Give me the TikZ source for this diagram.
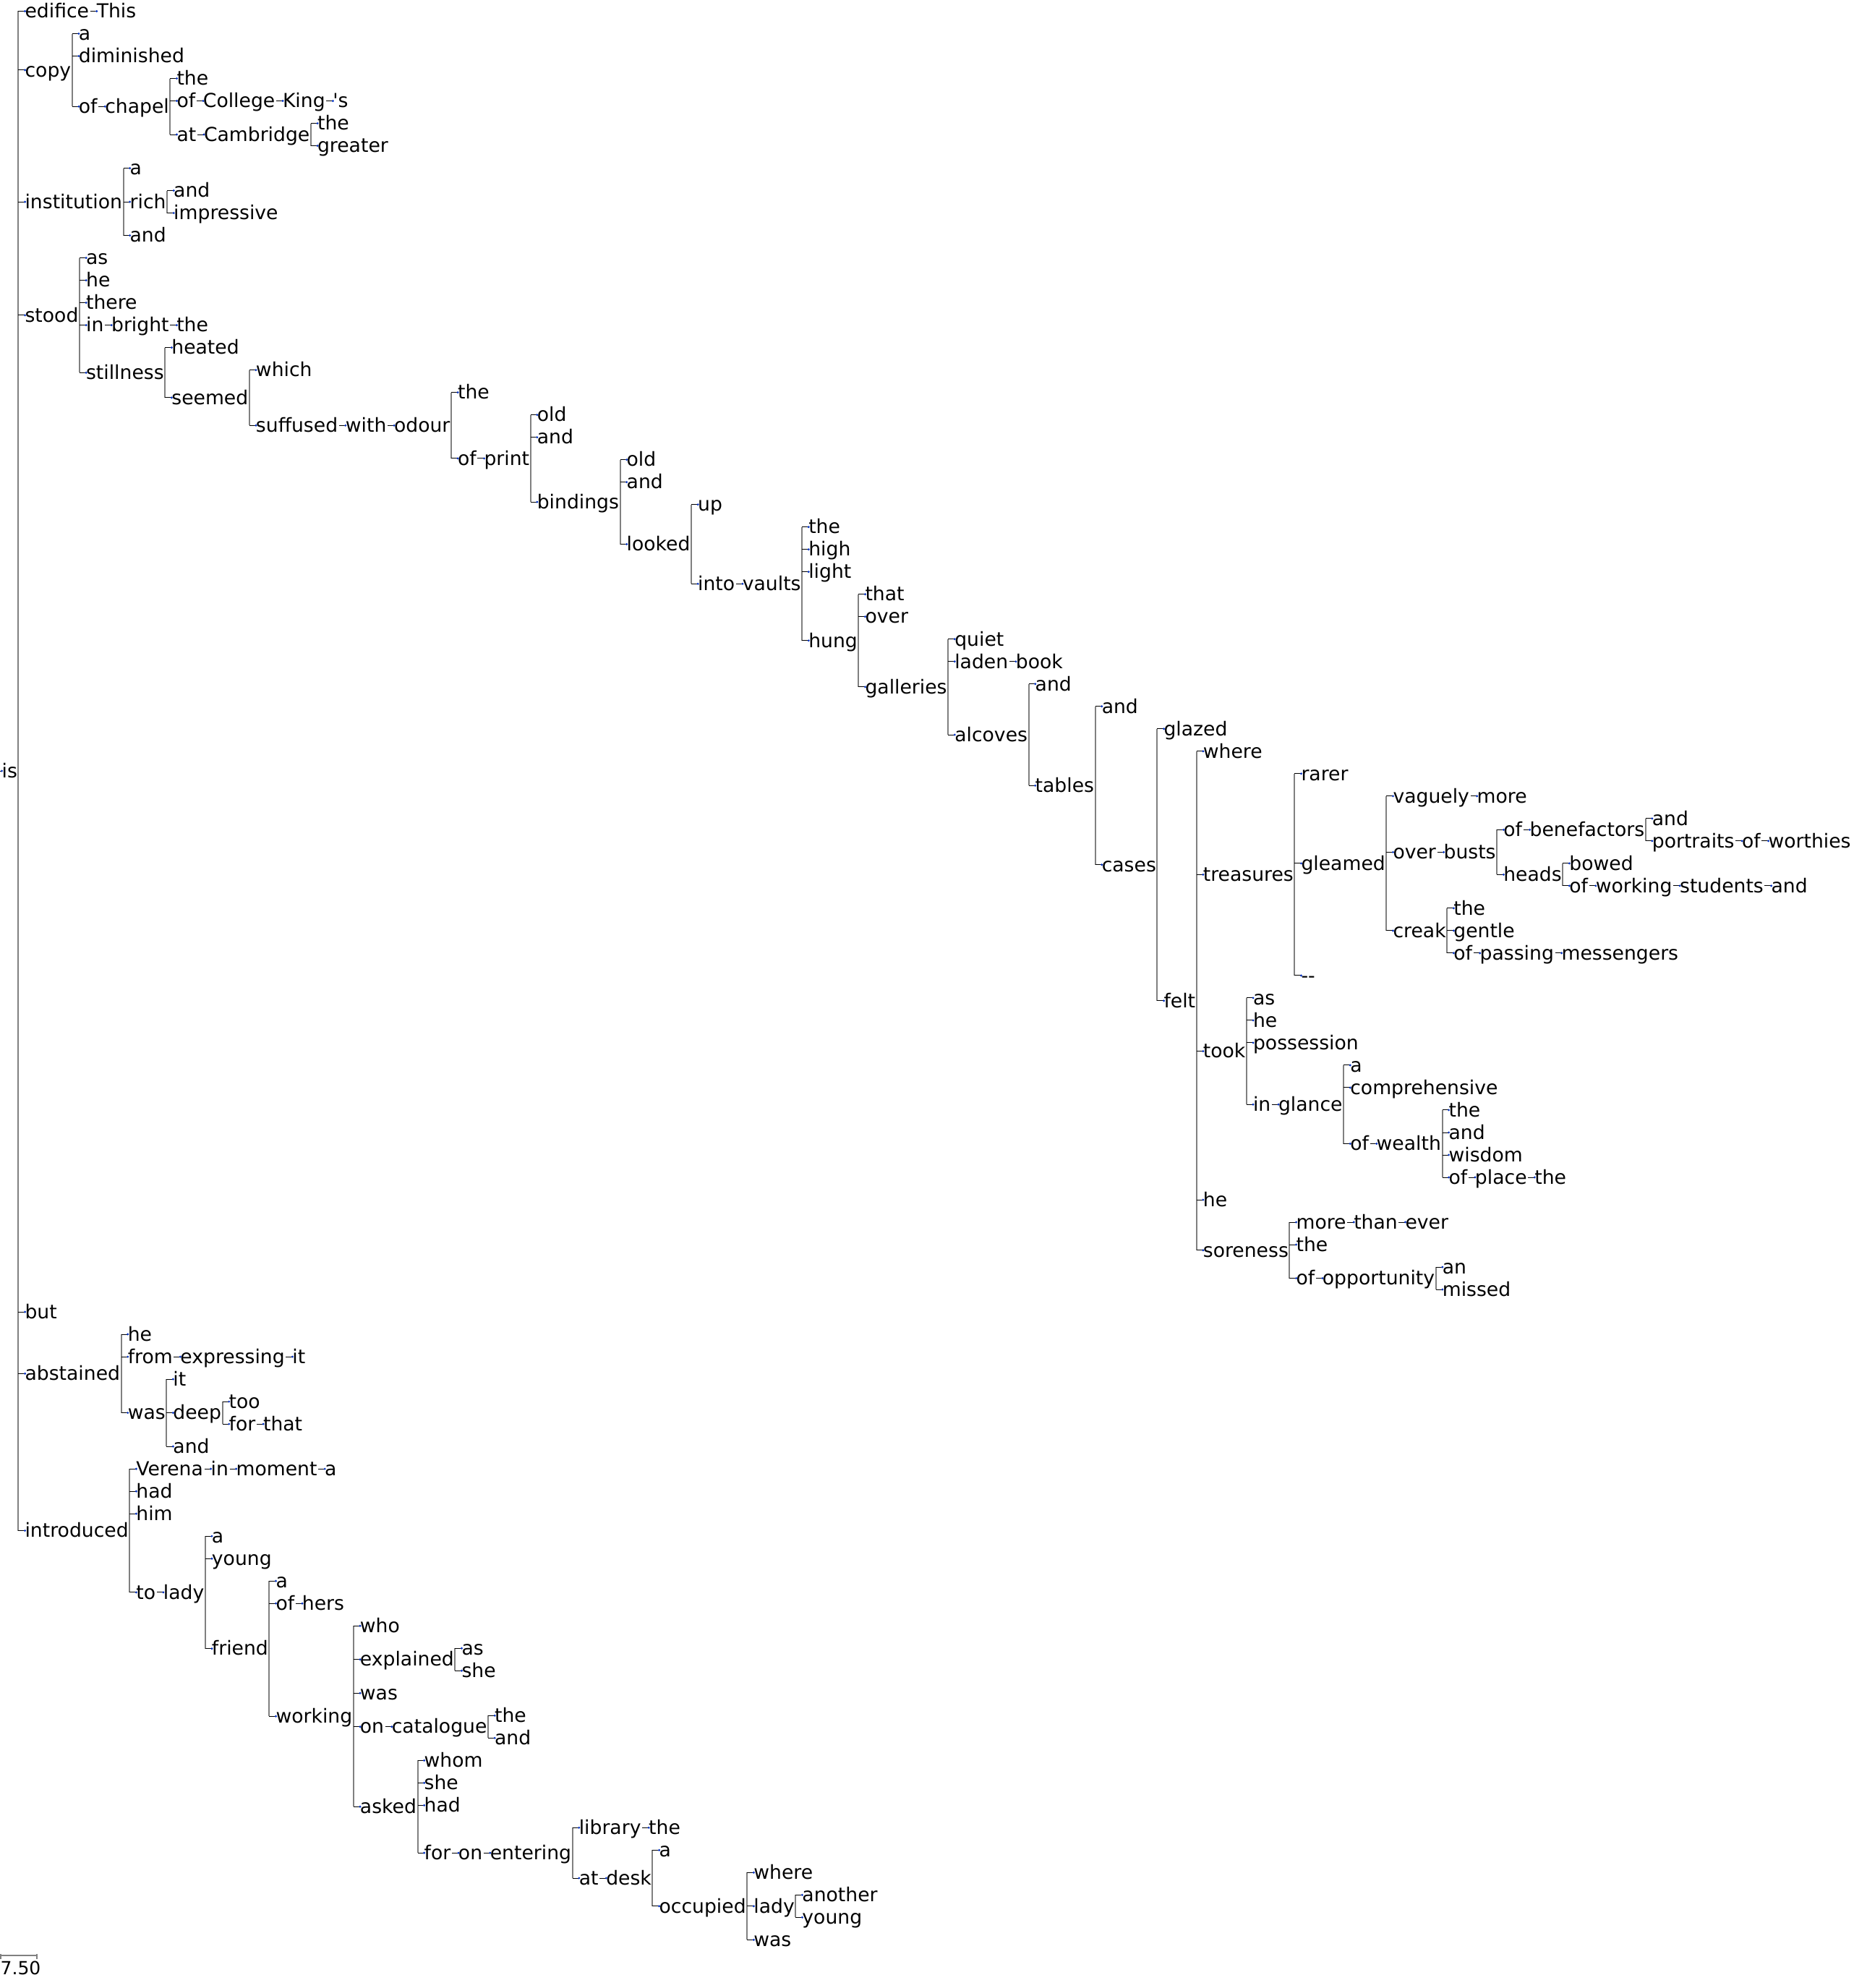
\documentclass[tikz,border=0pt]{standalone}
\usepackage{fontspec}
\usepackage{xcolor}
\usepackage{tikz}
\usetikzlibrary{
    calc
}
\newfontfamily\wordfont{DejaVu Sans}
\definecolor{NodeBlue}{HTML}{0030C3}
\tikzset{
    word/.style={
        font=\wordfont\fontsize{13.32pt}{15.5pt}\selectfont,
        inner sep=0pt,
        outer sep=0pt,
        anchor=west,
        text height=12.36pt,
        text depth=3.14pt,
        execute at end node={\hspace{.8pt}},
    },
    dep/.style={
        word,
        xshift=4.55pt,
    },
    dot/.style={
        circle,
        fill=NodeBlue,
        inner sep=0pt,
        minimum size=1.6pt,
    },
    input/.style={
        draw=black,
        line width=.5pt,
        to path={(\tikztostart.east |- \tikztotarget.west) -- (\tikztotarget.west) node[dot] {}},
    },
    fork/.style={
        draw=gray,
        line width=1pt,
    },
}

\begin{document}
\begin{tikzpicture}[x=0.5pt,y=-15.505pt,every edge/.style={input}]
    \useasboundingbox (0,-0.5) rectangle (2564,88.15);

    \tikzset{
        scalebar/.style={draw=gray,line width=1pt},
    }

    % root and first level
    \node[word] (is) at (2.6,33.877) {is};
    \node[dep] (edifice) at (is.east |- 0,0) {edifice};
    \node[dep] (This) at (edifice.east |- 0,0) {This};
    \node[dep] (copy) at (is.east |- 0,2.625) {copy};
    \node[dep] (copyA) at (copy.east |- 0,1) {a};
    \node[dep] (diminished) at (copy.east |- 0,2) {diminished};
    \node[dep] (ofChapel) at (copy.east |- 0,4.25) {of};
    \node[dep] (chapel) at (ofChapel.east |- 0,4.25) {chapel};
    \node[dep] (chapelThe) at (chapel.east |- 0,3) {the};
    \node[dep] (ofCollege) at (chapel.east |- 0,4) {of};
    \node[dep] (College) at (ofCollege.east |- 0,4) {College};
    \node[dep] (King) at (College.east |- 0,4) {King};
    \node[dep] (Kings) at (King.east |- 0,4) {'s};
    \node[dep] (atCambridge) at (chapel.east |- 0,5.5) {at};
    \node[dep] (Cambridge) at (atCambridge.east |- 0,5.5) {Cambridge};
    \node[dep] (cambridgeThe) at (Cambridge.east |- 0,5) {the};
    \node[dep] (greater) at (Cambridge.east |- 0,6) {greater};

    \node[dep] (institution) at (is.east |- 0,8.5) {institution};
    \node[dep] (instA) at (institution.east |- 0,7) {a};
    \node[dep] (rich) at (institution.east |- 0,8.5) {rich};
    \node[dep] (richAnd) at (rich.east |- 0,8) {and};
    \node[dep] (impressive) at (rich.east |- 0,9) {impressive};
    \node[dep] (instAnd) at (institution.east |- 0,10) {and};

    % the long staircase under stood
    \node[dep] (stood) at (is.east |- 0,13.5589) {stood};
    \node[dep] (stoodAs) at (stood.east |- 0,11) {as};
    \node[dep] (stoodHe) at (stood.east |- 0,12) {he};
    \node[dep] (there) at (stood.east |- 0,13) {there};
    \node[dep] (stoodIn) at (stood.east |- 0,14) {in};
    \node[dep] (bright) at (stoodIn.east |- 0,14) {bright};
    \node[dep] (brightThe) at (bright.east |- 0,14) {the};
    \node[dep] (stillness) at (stood.east |- 0,16.1177) {stillness};
    \node[dep] (heated) at (stillness.east |- 0,15) {heated};
    \node[dep] (seemed) at (stillness.east |- 0,17.2354) {seemed};
    \node[dep] (which) at (seemed.east |- 0,16) {which};
    \node[dep] (suffused) at (seemed.east |- 0,18.4708) {suffused};
    \node[dep] (with) at (suffused.east |- 0,18.4708) {with};
    \node[dep] (odour) at (with.east |- 0,18.4708) {odour};
    \node[dep] (odourThe) at (odour.east |- 0,17) {the};
    \node[dep] (ofPrint) at (odour.east |- 0,19.9417) {of};
    \node[dep] (print) at (ofPrint.east |- 0,19.9417) {print};
    \node[dep] (printOld) at (print.east |- 0,18) {old};
    \node[dep] (printAnd) at (print.east |- 0,19) {and};
    \node[dep] (bindings) at (print.east |- 0,21.8833) {bindings};
    \node[dep] (bindOld) at (bindings.east |- 0,20) {old};
    \node[dep] (bindAnd) at (bindings.east |- 0,21) {and};
    \node[dep] (looked) at (bindings.east |- 0,23.7666) {looked};
    \node[dep] (up) at (looked.east |- 0,22) {up};
    \node[dep] (into) at (looked.east |- 0,25.5332) {into};
    \node[dep] (vaults) at (into.east |- 0,25.5332) {vaults};
    \node[dep] (vaultsThe) at (vaults.east |- 0,23) {the};
    \node[dep] (high) at (vaults.east |- 0,24) {high};
    \node[dep] (light) at (vaults.east |- 0,25) {light};
    \node[dep] (hung) at (vaults.east |- 0,28.0664) {hung};
    \node[dep] (that) at (hung.east |- 0,26) {that};
    \node[dep] (over) at (hung.east |- 0,27) {over};
    \node[dep] (galleries) at (hung.east |- 0,30.1328) {galleries};
    \node[dep] (quiet) at (galleries.east |- 0,28) {quiet};
    \node[dep] (laden) at (galleries.east |- 0,29) {laden};
    \node[dep] (book) at (laden.east |- 0,29) {book};
    \node[dep] (alcoves) at (galleries.east |- 0,32.2656) {alcoves};
    \node[dep] (alcAnd) at (alcoves.east |- 0,30) {and};
    \node[dep] (tables) at (alcoves.east |- 0,34.5313) {tables};
    \node[dep] (tabAnd) at (tables.east |- 0,31) {and};
    \node[dep] (cases) at (tables.east |- 0,38.0625) {cases};
    \node[dep] (glazed) at (cases.east |- 0,32) {glazed};
    \node[dep] (felt) at (cases.east |- 0,44.125) {felt};
    \node[dep] (where) at (felt.east |- 0,33) {where};

    \node[dep] (treasures) at (felt.east |- 0,38.5) {treasures};
    \node[dep] (rarer) at (treasures.east |- 0,34) {rarer};
    \node[dep] (gleamed) at (treasures.east |- 0,38) {gleamed};
    \node[dep] (vaguely) at (gleamed.east |- 0,35) {vaguely};
    \node[dep] (more) at (vaguely.east |- 0,35) {more};
    \node[dep] (overBusts) at (gleamed.east |- 0,37.5) {over};
    \node[dep] (busts) at (overBusts.east |- 0,37.5) {busts};
    \node[dep] (ofBenef) at (busts.east |- 0,36.5) {of};
    \node[dep] (benefactors) at (ofBenef.east |- 0,36.5) {benefactors};
    \node[dep] (benAnd) at (benefactors.east |- 0,36) {and};
    \node[dep] (portraits) at (benefactors.east |- 0,37) {portraits};
    \node[dep] (ofWorthies) at (portraits.east |- 0,37) {of};
    \node[dep] (worthies) at (ofWorthies.east |- 0,37) {worthies};
    \node[dep] (heads) at (busts.east |- 0,38.5) {heads};
    \node[dep] (bowed) at (heads.east |- 0,38) {bowed};
    \node[dep] (ofWorking) at (heads.east |- 0,39) {of};
    \node[dep] (workingA) at (ofWorking.east |- 0,39) {working};
    \node[dep] (students) at (workingA.east |- 0,39) {students};
    \node[dep] (studAnd) at (students.east |- 0,39) {and};
    \node[dep] (creak) at (gleamed.east |- 0,41) {creak};
    \node[dep] (creakThe) at (creak.east |- 0,40) {the};
    \node[dep] (gentle) at (creak.east |- 0,41) {gentle};
    \node[dep] (ofPassing) at (creak.east |- 0,42) {of};
    \node[dep] (passing) at (ofPassing.east |- 0,42) {passing};
    \node[dep] (messengers) at (passing.east |- 0,42) {messengers};
    \node[dep] (dashes) at (treasures.east |- 0,43) {--};

    \node[dep] (took) at (felt.east |- 0,46.375) {took};
    \node[dep] (tookAs) at (took.east |- 0,44) {as};
    \node[dep] (tookHe) at (took.east |- 0,45) {he};
    \node[dep] (possession) at (took.east |- 0,46) {possession};
    \node[dep] (inGlance) at (took.east |- 0,48.75) {in};
    \node[dep] (glance) at (inGlance.east |- 0,48.75) {glance};
    \node[dep] (glanceA) at (glance.east |- 0,47) {a};
    \node[dep] (comprehensive) at (glance.east |- 0,48) {comprehensive};
    \node[dep] (ofWealth) at (glance.east |- 0,50.5) {of};
    \node[dep] (wealth) at (ofWealth.east |- 0,50.5) {wealth};
    \node[dep] (wealthThe) at (wealth.east |- 0,49) {the};
    \node[dep] (wealthAnd) at (wealth.east |- 0,50) {and};
    \node[dep] (wisdom) at (wealth.east |- 0,51) {wisdom};
    \node[dep] (ofPlace) at (wealth.east |- 0,52) {of};
    \node[dep] (place) at (ofPlace.east |- 0,52) {place};
    \node[dep] (placeThe) at (place.east |- 0,52) {the};
    \node[dep] (feltHe) at (felt.east |- 0,53) {he};
    \node[dep] (soreness) at (felt.east |- 0,55.25) {soreness};
    \node[dep] (moreThan) at (soreness.east |- 0,54) {more};
    \node[dep] (than) at (moreThan.east |- 0,54) {than};
    \node[dep] (ever) at (than.east |- 0,54) {ever};
    \node[dep] (sorenessThe) at (soreness.east |- 0,55) {the};
    \node[dep] (ofOpp) at (soreness.east |- 0,56.5) {of};
    \node[dep] (opportunity) at (ofOpp.east |- 0,56.5) {opportunity};
    \node[dep] (an) at (opportunity.east |- 0,56) {an};
    \node[dep] (missed) at (opportunity.east |- 0,57) {missed};

    % lower part
    \node[dep] (but) at (is.east |- 0,58) {but};
    \node[dep] (abstained) at (is.east |- 0,60.75) {abstained};
    \node[dep] (abstHe) at (abstained.east |- 0,59) {he};
    \node[dep] (from) at (abstained.east |- 0,60) {from};
    \node[dep] (expressing) at (from.east |- 0,60) {expressing};
    \node[dep] (expIt) at (expressing.east |- 0,60) {it};
    \node[dep] (wasA) at (abstained.east |- 0,62.5) {was};
    \node[dep] (wasIt) at (wasA.east |- 0,61) {it};
    \node[dep] (deep) at (wasA.east |- 0,62.5) {deep};
    \node[dep] (too) at (deep.east |- 0,62) {too};
    \node[dep] (forThat) at (deep.east |- 0,63) {for};
    \node[dep] (thatA) at (forThat.east |- 0,63) {that};
    \node[dep] (wasAnd) at (wasA.east |- 0,64) {and};

    \node[dep] (introduced) at (is.east |- 0,67.7539) {introduced};
    \node[dep] (Verena) at (introduced.east |- 0,65) {Verena};
    \node[dep] (inMoment) at (Verena.east |- 0,65) {in};
    \node[dep] (moment) at (inMoment.east |- 0,65) {moment};
    \node[dep] (momentA) at (moment.east |- 0,65) {a};
    \node[dep] (hadA) at (introduced.east |- 0,66) {had};
    \node[dep] (him) at (introduced.east |- 0,67) {him};
    \node[dep] (toLady) at (introduced.east |- 0,70.5078) {to};
    \node[dep] (ladyA) at (toLady.east |- 0,70.5078) {lady};
    \node[dep] (ladyAA) at (ladyA.east |- 0,68) {a};
    \node[dep] (youngA) at (ladyA.east |- 0,69) {young};
    \node[dep] (friend) at (ladyA.east |- 0,73.0156) {friend};
    \node[dep] (friendA) at (friend.east |- 0,70) {a};
    \node[dep] (ofHers) at (friend.east |- 0,71) {of};
    \node[dep] (hers) at (ofHers.east |- 0,71) {hers};
    \node[dep] (workingB) at (friend.east |- 0,76.0313) {working};
    \node[dep] (who) at (workingB.east |- 0,72) {who};
    \node[dep] (explained) at (workingB.east |- 0,73.5) {explained};
    \node[dep] (explAs) at (explained.east |- 0,73) {as};
    \node[dep] (explShe) at (explained.east |- 0,74) {she};
    \node[dep] (wasB) at (workingB.east |- 0,75) {was};
    \node[dep] (onCat) at (workingB.east |- 0,76.5) {on};
    \node[dep] (catalogue) at (onCat.east |- 0,76.5) {catalogue};
    \node[dep] (catThe) at (catalogue.east |- 0,76) {the};
    \node[dep] (catAnd) at (catalogue.east |- 0,77) {and};
    \node[dep] (asked) at (workingB.east |- 0,80.0625) {asked};
    \node[dep] (whom) at (asked.east |- 0,78) {whom};
    \node[dep] (askedShe) at (asked.east |- 0,79) {she};
    \node[dep] (hadB) at (asked.east |- 0,80) {had};
    \node[dep] (forOn) at (asked.east |- 0,82.125) {for};
    \node[dep] (onEnt) at (forOn.east |- 0,82.125) {on};
    \node[dep] (entering) at (onEnt.east |- 0,82.125) {entering};
    \node[dep] (library) at (entering.east |- 0,81) {library};
    \node[dep] (libThe) at (library.east |- 0,81) {the};
    \node[dep] (atDesk) at (entering.east |- 0,83.25) {at};
    \node[dep] (desk) at (atDesk.east |- 0,83.25) {desk};
    \node[dep] (deskA) at (desk.east |- 0,82) {a};
    \node[dep] (occupied) at (desk.east |- 0,84.5) {occupied};
    \node[dep] (occWhere) at (occupied.east |- 0,83) {where};
    \node[dep] (ladyB) at (occupied.east |- 0,84.5) {lady};
    \node[dep] (another) at (ladyB.east |- 0,84) {another};
    \node[dep] (youngB) at (ladyB.east |- 0,85) {young};
    \node[dep] (wasC) at (occupied.east |- 0,86) {was};

    % scale
    \coordinate (rootstem) at (0,33.877);
    \coordinate (scaleL) at (1,86.71);
    \coordinate (scaleR) at (51,86.71);
    \node[anchor=base west,inner sep=0pt,font=\wordfont\fontsize{12.5pt}{14pt}\selectfont] (scalelabel) at (0.3,87.54) {7.50};

    \draw[input] (rootstem) -- (is.west) node[dot] {};
    \draw[fork] (is.east |- edifice.west) -- (is.east |- introduced.west)
        (is) edge (edifice) edge (copy) edge (institution) edge (stood) edge (but) edge (abstained) edge (introduced);
    \path (edifice) edge (This);
    \draw[fork] (copy.east |- copyA.west) -- (copy.east |- ofChapel.west)
        (copy) edge (copyA) edge (diminished) edge (ofChapel);
    \path (ofChapel) edge (chapel);
    \draw[fork] (chapel.east |- chapelThe.west) -- (chapel.east |- atCambridge.west)
        (chapel) edge (chapelThe) edge (ofCollege) edge (atCambridge);
    \path (ofCollege) edge (College) (College) edge (King) (King) edge (Kings);
    \path (atCambridge) edge (Cambridge);
    \draw[fork] (Cambridge.east |- cambridgeThe.west) -- (Cambridge.east |- greater.west)
        (Cambridge) edge (cambridgeThe) edge (greater);

    \draw[fork] (institution.east |- instA.west) -- (institution.east |- instAnd.west)
        (institution) edge (instA) edge (rich) edge (instAnd);
    \draw[fork] (rich.east |- richAnd.west) -- (rich.east |- impressive.west)
        (rich) edge (richAnd) edge (impressive);

    \draw[fork] (stood.east |- stoodAs.west) -- (stood.east |- stillness.west)
        (stood) edge (stoodAs) edge (stoodHe) edge (there) edge (stoodIn) edge (stillness);
    \path (stoodIn) edge (bright) (bright) edge (brightThe);
    \draw[fork] (stillness.east |- heated.west) -- (stillness.east |- seemed.west)
        (stillness) edge (heated) edge (seemed);
    \draw[fork] (seemed.east |- which.west) -- (seemed.east |- suffused.west)
        (seemed) edge (which) edge (suffused);
    \path (suffused) edge (with) (with) edge (odour);
    \draw[fork] (odour.east |- odourThe.west) -- (odour.east |- ofPrint.west)
        (odour) edge (odourThe) edge (ofPrint);
    \path (ofPrint) edge (print);
    \draw[fork] (print.east |- printOld.west) -- (print.east |- bindings.west)
        (print) edge (printOld) edge (printAnd) edge (bindings);
    \draw[fork] (bindings.east |- bindOld.west) -- (bindings.east |- looked.west)
        (bindings) edge (bindOld) edge (bindAnd) edge (looked);
    \draw[fork] (looked.east |- up.west) -- (looked.east |- into.west)
        (looked) edge (up) edge (into);
    \path (into) edge (vaults);
    \draw[fork] (vaults.east |- vaultsThe.west) -- (vaults.east |- hung.west)
        (vaults) edge (vaultsThe) edge (high) edge (light) edge (hung);
    \draw[fork] (hung.east |- that.west) -- (hung.east |- galleries.west)
        (hung) edge (that) edge (over) edge (galleries);
    \draw[fork] (galleries.east |- quiet.west) -- (galleries.east |- alcoves.west)
        (galleries) edge (quiet) edge (laden) edge (alcoves);
    \path (laden) edge (book);
    \draw[fork] (alcoves.east |- alcAnd.west) -- (alcoves.east |- tables.west)
        (alcoves) edge (alcAnd) edge (tables);
    \draw[fork] (tables.east |- tabAnd.west) -- (tables.east |- cases.west)
        (tables) edge (tabAnd) edge (cases);
    \draw[fork] (cases.east |- glazed.west) -- (cases.east |- felt.west)
        (cases) edge (glazed) edge (felt);
    \draw[fork] (felt.east |- where.west) -- (felt.east |- soreness.west)
        (felt) edge (where) edge (treasures) edge (took) edge (feltHe) edge (soreness);

    \draw[fork] (treasures.east |- rarer.west) -- (treasures.east |- dashes.west)
        (treasures) edge (rarer) edge (gleamed) edge (dashes);
    \draw[fork] (gleamed.east |- vaguely.west) -- (gleamed.east |- creak.west)
        (gleamed) edge (vaguely) edge (overBusts) edge (creak);
    \path (vaguely) edge (more) (overBusts) edge (busts);
    \draw[fork] (busts.east |- ofBenef.west) -- (busts.east |- heads.west)
        (busts) edge (ofBenef) edge (heads);
    \path (ofBenef) edge (benefactors);
    \draw[fork] (benefactors.east |- benAnd.west) -- (benefactors.east |- portraits.west)
        (benefactors) edge (benAnd) edge (portraits);
    \path (portraits) edge (ofWorthies) (ofWorthies) edge (worthies);
    \draw[fork] (heads.east |- bowed.west) -- (heads.east |- ofWorking.west)
        (heads) edge (bowed) edge (ofWorking);
    \path (ofWorking) edge (workingA) (workingA) edge (students) (students) edge (studAnd);
    \draw[fork] (creak.east |- creakThe.west) -- (creak.east |- ofPassing.west)
        (creak) edge (creakThe) edge (gentle) edge (ofPassing);
    \path (ofPassing) edge (passing) (passing) edge (messengers);

    \draw[fork] (took.east |- tookAs.west) -- (took.east |- inGlance.west)
        (took) edge (tookAs) edge (tookHe) edge (possession) edge (inGlance);
    \path (inGlance) edge (glance);
    \draw[fork] (glance.east |- glanceA.west) -- (glance.east |- ofWealth.west)
        (glance) edge (glanceA) edge (comprehensive) edge (ofWealth);
    \path (ofWealth) edge (wealth);
    \draw[fork] (wealth.east |- wealthThe.west) -- (wealth.east |- ofPlace.west)
        (wealth) edge (wealthThe) edge (wealthAnd) edge (wisdom) edge (ofPlace);
    \path (ofPlace) edge (place) (place) edge (placeThe);
    \draw[fork] (soreness.east |- moreThan.west) -- (soreness.east |- ofOpp.west)
        (soreness) edge (moreThan) edge (sorenessThe) edge (ofOpp);
    \path (moreThan) edge (than) (than) edge (ever) (ofOpp) edge (opportunity);
    \draw[fork] (opportunity.east |- an.west) -- (opportunity.east |- missed.west)
        (opportunity) edge (an) edge (missed);

    \draw[fork] (abstained.east |- abstHe.west) -- (abstained.east |- wasA.west)
        (abstained) edge (abstHe) edge (from) edge (wasA);
    \path (from) edge (expressing) (expressing) edge (expIt);
    \draw[fork] (wasA.east |- wasIt.west) -- (wasA.east |- wasAnd.west)
        (wasA) edge (wasIt) edge (deep) edge (wasAnd);
    \draw[fork] (deep.east |- too.west) -- (deep.east |- forThat.west)
        (deep) edge (too) edge (forThat);
    \path (forThat) edge (thatA);

    \draw[fork] (introduced.east |- Verena.west) -- (introduced.east |- toLady.west)
        (introduced) edge (Verena) edge (hadA) edge (him) edge (toLady);
    \path (Verena) edge (inMoment) (inMoment) edge (moment) (moment) edge (momentA);
    \path (toLady) edge (ladyA);
    \draw[fork] (ladyA.east |- ladyAA.west) -- (ladyA.east |- friend.west)
        (ladyA) edge (ladyAA) edge (youngA) edge (friend);
    \draw[fork] (friend.east |- friendA.west) -- (friend.east |- workingB.west)
        (friend) edge (friendA) edge (ofHers) edge (workingB);
    \path (ofHers) edge (hers);
    \draw[fork] (workingB.east |- who.west) -- (workingB.east |- asked.west)
        (workingB) edge (who) edge (explained) edge (wasB) edge (onCat) edge (asked);
    \draw[fork] (explained.east |- explAs.west) -- (explained.east |- explShe.west)
        (explained) edge (explAs) edge (explShe);
    \path (onCat) edge (catalogue);
    \draw[fork] (catalogue.east |- catThe.west) -- (catalogue.east |- catAnd.west)
        (catalogue) edge (catThe) edge (catAnd);
    \draw[fork] (asked.east |- whom.west) -- (asked.east |- forOn.west)
        (asked) edge (whom) edge (askedShe) edge (hadB) edge (forOn);
    \path (forOn) edge (onEnt) (onEnt) edge (entering);
    \draw[fork] (entering.east |- library.west) -- (entering.east |- atDesk.west)
        (entering) edge (library) edge (atDesk);
    \path (library) edge (libThe) (atDesk) edge (desk);
    \draw[fork] (desk.east |- deskA.west) -- (desk.east |- occupied.west)
        (desk) edge (deskA) edge (occupied);
    \draw[fork] (occupied.east |- occWhere.west) -- (occupied.east |- wasC.west)
        (occupied) edge (occWhere) edge (ladyB) edge (wasC);
    \draw[fork] (ladyB.east |- another.west) -- (ladyB.east |- youngB.west)
        (ladyB) edge (another) edge (youngB);

    \draw[scalebar] (scaleL) -- (scaleR);
    \draw[scalebar] ([yshift=1.4pt]scaleL) -- ([yshift=-2.1pt]scaleL);
    \draw[scalebar] ([yshift=1.4pt]scaleR) -- ([yshift=-2.1pt]scaleR);
\end{tikzpicture}
\end{document}
